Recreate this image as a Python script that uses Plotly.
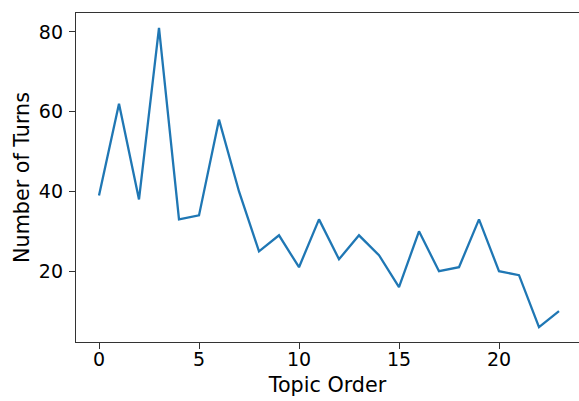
import plotly.graph_objects as go

topic_order = list(range(24))
num_turns = [39, 62, 38, 81, 33, 34, 58, 40, 25, 29, 21, 33, 23, 29, 24, 16,
             30, 20, 21, 33, 20, 19, 6, 10]
x_ticks = [0, 5, 10, 15, 20]
y_ticks = [20, 40, 60, 80]

FONT = "DejaVu Sans"

fig = go.Figure(go.Scatter(
    x=topic_order, y=num_turns, mode="lines",
    line=dict(color="#1f77b4", width=2.3),
))

fig.update_layout(
    width=579, height=401,
    margin=dict(l=76, r=0, t=13, b=59),
    paper_bgcolor="white", plot_bgcolor="white",
    font=dict(family=FONT, size=19, color="black"),
    showlegend=False,
)
fig.update_xaxes(
    range=[-1.15, 24.0], tickvals=x_ticks, showgrid=False, zeroline=False,
    showline=True, mirror=True, linecolor="#333333", linewidth=1.3,
    ticks="outside", ticklen=6, tickwidth=1.3, tickcolor="#333333",
    ticklabelstandoff=-6, automargin=False,
    title=dict(text="Topic Order", standoff=8, font=dict(size=20.7)),
)
fig.update_yaxes(
    range=[2.25, 84.75], tickvals=y_ticks, showgrid=False, zeroline=False,
    showline=True, linecolor="#333333", linewidth=1.3,
    ticks="outside", ticklen=6, tickwidth=1.3, tickcolor="#333333",
    ticklabelstandoff=2, automargin=False,
    title=dict(text="Number of Turns", standoff=3, font=dict(size=20.7)),
)

fig.write_html(
    "out.html",
    config={"displayModeBar": False},
    post_script="document.body.style.margin='0';document.body.style.overflow='hidden';",
)
